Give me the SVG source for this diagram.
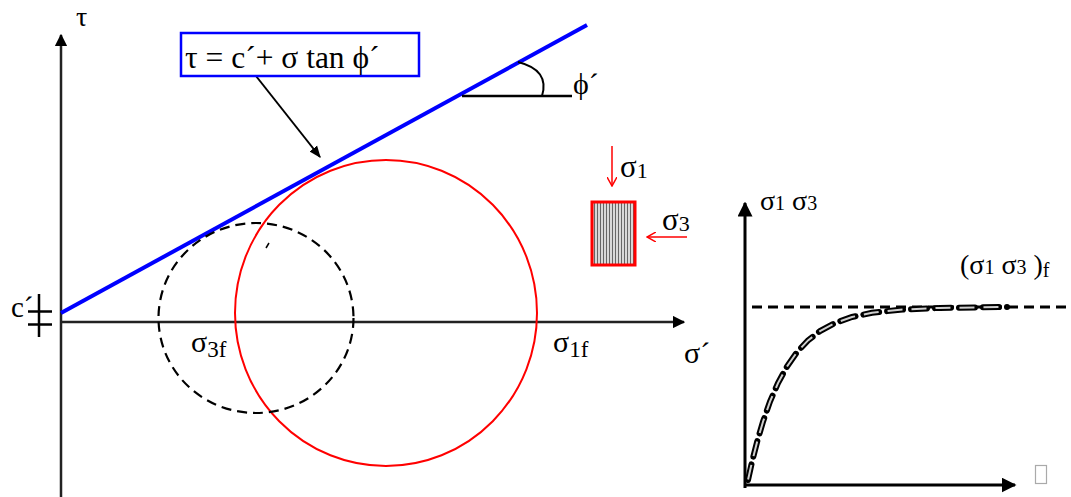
<svg xmlns="http://www.w3.org/2000/svg" width="1071" height="497" viewBox="0 0 1071 497" font-family="'Liberation Serif', 'Times New Roman', serif">
<style>
text{font-family:'Liberation Serif','Times New Roman',serif;fill:#000}
.ax{stroke:#222;stroke-width:2.5;fill:none}
</style>
<defs>
<marker id="ah" viewBox="0 0 10 10" refX="9" refY="5" markerWidth="5" markerHeight="5" orient="auto" markerUnits="strokeWidth">
<path d="M0,0 L10,5 L0,10 Z" fill="#000"/>
</marker>
<marker id="ah2" viewBox="0 0 10 10" refX="9" refY="5" markerWidth="6" markerHeight="6" orient="auto" markerUnits="strokeWidth">
<path d="M0,1 L10,5 L0,9 Z" fill="#000"/>
</marker>
<marker id="rv" viewBox="0 0 10 10" refX="9" refY="5" markerWidth="10" markerHeight="10" orient="auto" markerUnits="userSpaceOnUse">
<path d="M0,0 L9,5 L0,10" fill="none" stroke="#f00" stroke-width="1.5"/>
</marker>
<pattern id="hatch" width="3" height="4" patternUnits="userSpaceOnUse">
<rect width="3" height="4" fill="#d8d8d8"/>
<rect x="0" width="1" height="4" fill="#666"/>
</pattern>
</defs>

<g id="connectors">
<line class="ax" x1="61" y1="497" x2="61" y2="35" marker-end="url(#ah)"/>
<line class="ax" x1="61" y1="322" x2="684" y2="322" marker-end="url(#ah)"/>
<line x1="256" y1="76" x2="320" y2="157" stroke="#000" stroke-width="2" marker-end="url(#ah2)"/>
<line x1="612" y1="146" x2="612" y2="186" stroke="#f00" stroke-width="1.5" marker-end="url(#rv)"/>
<line x1="687" y1="237" x2="647" y2="237" stroke="#f00" stroke-width="1.5" marker-end="url(#rv)"/>
<line x1="745" y1="488" x2="745" y2="203" stroke="#000" stroke-width="3" marker-end="url(#ah)"/>
<line x1="745" y1="485" x2="1015" y2="485" stroke="#000" stroke-width="3" marker-end="url(#ah)"/>
</g>

<g id="envelope">
<line x1="61" y1="313" x2="587" y2="25" stroke="#00f" stroke-width="4"/>
<line x1="462" y1="96" x2="572" y2="96" stroke="#000" stroke-width="2.5"/>
<path d="M518,62 Q550,70 542,96" fill="none" stroke="#000" stroke-width="2"/>
<text x="573" y="94" font-size="30">ϕ´</text>
</g>

<g id="formula">
<rect x="181" y="33" width="238" height="43" fill="#fff" stroke="#00f" stroke-width="2.5"/>
<text x="185" y="68" font-size="31.5">τ = c´+ σ tan ϕ´</text>
</g>

<g id="circle-f">
<ellipse cx="386" cy="313" rx="151" ry="153" fill="none" stroke="#f00" stroke-width="2"/>
</g>
<g id="circle-3f">
<ellipse cx="256" cy="318" rx="97.5" ry="95" fill="none" stroke="#000" stroke-width="2.2" stroke-dasharray="10 6"/>
<line x1="266" y1="248" x2="269" y2="243" stroke="#000" stroke-width="1.5"/>
</g>

<g id="axis-labels">
<text x="76" y="26" font-size="28">τ</text>
<text x="684" y="363" font-size="30">σ´</text>
<text x="11" y="317" font-size="29">c´</text>
<line x1="39" y1="294" x2="39" y2="337" stroke="#000" stroke-width="2.5"/>
<line x1="28" y1="311.5" x2="52" y2="311.5" stroke="#000" stroke-width="2.5"/>
<line x1="28" y1="324.5" x2="52" y2="324.5" stroke="#000" stroke-width="2.5"/>
<text x="191" y="352" font-size="30">σ<tspan font-size="23" dy="5">3f</tspan></text>
<text x="553" y="352" font-size="30">σ<tspan font-size="23" dy="5">1f</tspan></text>
</g>

<g id="specimen">
<rect x="592" y="202" width="43" height="63" fill="url(#hatch)" stroke="#f00" stroke-width="3"/>
<text x="620" y="177" font-size="31">σ<tspan font-size="22" dy="1">1</tspan></text>
<text x="662" y="230" font-size="31">σ<tspan font-size="22" dy="1">3</tspan></text>
</g>

<g id="stress-strain">
<text x="760" y="210" font-size="28">σ<tspan font-size="20">1</tspan> σ<tspan font-size="20">3</tspan></text>
<text x="960" y="274" font-size="28">(σ<tspan font-size="20">1</tspan> σ<tspan font-size="20">3</tspan> )<tspan font-size="20" dy="3">f</tspan></text>
<line x1="752" y1="307" x2="1071" y2="307" stroke="#000" stroke-width="3" stroke-dasharray="10 6"/>
<path d="M748,480 L752,462 L757,442.2 L763,421.7 L770,401.6 L778,383.1 L787,366.5 L797,352.2 L808,340.4 L820,331.1 L835,323 L852,317 L872,312.8 L900,309.7 L940,307.9 L1007,307" fill="none" stroke="#000" stroke-width="6" stroke-dasharray="16 8" stroke-linecap="round"/>
<path d="M748,480 L752,462 L757,442.2 L763,421.7 L770,401.6 L778,383.1 L787,366.5 L797,352.2 L808,340.4 L820,331.1 L835,323 L852,317 L872,312.8 L900,309.7 L940,307.9 L1007,307" fill="none" stroke="#cfcfcf" stroke-width="2" stroke-dasharray="15 9" stroke-dashoffset="-0.5"/>
<rect x="1035.5" y="465.5" width="11" height="18" fill="none" stroke="#aaa" stroke-width="1.2"/>
</g>
</svg>
